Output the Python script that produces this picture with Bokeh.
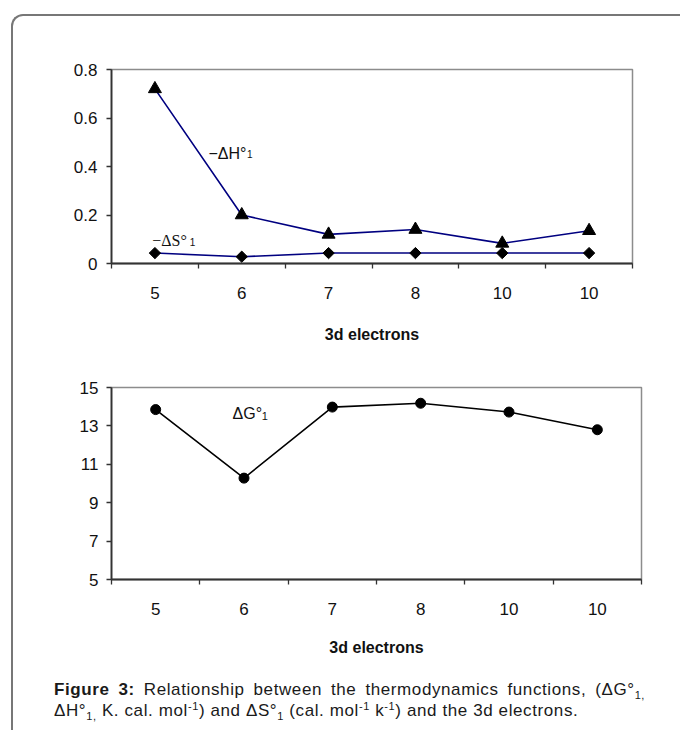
import math
from bokeh.plotting import figure
from bokeh.models import Range1d, FixedTicker, Label, Div
from bokeh.layouts import column
from bokeh.embed import file_html
from bokeh.resources import INLINE

# ---- data ----
categories = ["5", "6", "7", "8", "10", "10"]
neg_dH = [0.72, 0.20, 0.12, 0.14, 0.083, 0.135]      # -ΔH°1
neg_dS = [0.043, 0.028, 0.043, 0.043, 0.043, 0.043]  # -ΔS°1
dG = [13.85, 10.28, 13.98, 14.18, 13.72, 12.8]       # ΔG°1
top_y_ticks = [0, 0.2, 0.4, 0.6, 0.8]
top_y_labels = ["0", "0.2", "0.4", "0.6", "0.8"]
bot_y_ticks = [5, 7, 9, 11, 13, 15]
x_title = "3d electrons"

xs = list(range(len(categories)))
x_overrides = {i: c for i, c in zip(xs, categories)}
bounds = [i - 0.5 for i in xs] + [xs[-1] + 0.5]

FONT = "Liberation Sans"
AX = "#333333"
TXT = "#111111"


def style(p, yticks, yover, ystand):
    p.outline_line_color = "#8c8c8c"
    p.outline_line_width = 1.5
    p.xgrid.visible = False
    p.ygrid.visible = False
    p.background_fill_color = "white"
    p.border_fill_color = None
    xa = p.xaxis[0]
    xa.ticker = FixedTicker(ticks=xs, minor_ticks=bounds)
    xa.major_label_overrides = x_overrides
    xa.major_tick_line_color = None
    xa.major_tick_out = 0
    xa.major_tick_in = 0
    xa.minor_tick_out = 5
    xa.minor_tick_in = 0
    xa.minor_tick_line_color = AX
    xa.minor_tick_line_width = 1.3
    xa.axis_line_color = AX
    xa.axis_line_width = 1.8
    xa.major_label_text_font = FONT
    xa.major_label_text_font_size = "17px"
    xa.major_label_text_color = TXT
    xa.major_label_standoff = 18
    xa.axis_label = x_title
    xa.axis_label_text_font = FONT
    xa.axis_label_text_font_style = "bold"
    xa.axis_label_text_font_size = "16px"
    xa.axis_label_text_color = TXT
    xa.axis_label_standoff = 24
    ya = p.yaxis[0]
    ya.ticker = FixedTicker(ticks=yticks)
    if yover:
        ya.major_label_overrides = yover
    ya.minor_tick_line_color = None
    ya.major_tick_out = 5
    ya.major_tick_in = 0
    ya.major_tick_line_color = AX
    ya.major_tick_line_width = 1.3
    ya.axis_line_color = AX
    ya.axis_line_width = 1.8
    ya.major_label_text_font = FONT
    ya.major_label_text_font_size = "17px"
    ya.major_label_text_color = TXT
    ya.major_label_standoff = ystand


def lab(p, x, y, text, size, font=FONT):
    p.add_layout(Label(x=x, y=y, text=text, text_font=font, text_font_size=size,
                       text_baseline="alphabetic", text_align="left", text_color=TXT))


# ---- top chart ----
p1 = figure(width=667, height=329, frame_width=521, frame_height=194,
            min_border_left=98, min_border_right=48, min_border_top=53, min_border_bottom=82,
            x_range=Range1d(-0.5, 5.5), y_range=Range1d(0, 0.8),
            output_backend="svg", toolbar_location=None)
style(p1, top_y_ticks, {t: l for t, l in zip(top_y_ticks, top_y_labels)}, 9)
p1.line(xs, neg_dH, line_color="#000080", line_width=1.6)
p1.line(xs, neg_dS, line_color="#000080", line_width=1.6)
p1.scatter(xs, neg_dH, marker="triangle", size=13, color="black")
p1.scatter(xs, neg_dS, marker="square", size=8, angle=math.pi / 4, color="black")

lab(p1, 0.617, 0.454, "\u2212\u0394H\u00b0", "16px")
lab(p1, 1.06, 0.450, "1", "10px")
lab(p1, -0.03, 0.096, "\u2212\u0394S\u00b0", "16px", "Liberation Serif")
lab(p1, 0.40, 0.088, "1", "10px")

# ---- bottom chart ----
p2 = figure(width=667, height=323, frame_width=530, frame_height=192,
            min_border_left=92, min_border_right=45, min_border_top=42, min_border_bottom=89,
            x_range=Range1d(-0.5, 5.5), y_range=Range1d(5, 15),
            output_backend="svg", toolbar_location=None)
style(p2, bot_y_ticks, None, 8)
p2.xaxis[0].axis_label_standoff = 21
p2.line(xs, dG, line_color="black", line_width=1.6)
p2.scatter(xs, dG, marker="circle", size=10, color="black")
lab(p2, 0.87, 13.65, "\u0394G\u00b0", "16px")
lab(p2, 1.20, 13.49, "1", "11px")

SUB = '<span style="font-size:11px;line-height:0;vertical-align:-4px;">'
SUP = '<span style="font-size:11px;line-height:0;vertical-align:6px;">'
caption = Div(
    text=('<div style="padding-left:36px;padding-top:6px;font-family:\'Liberation Sans\',Arial;'
          'font-size:17px;letter-spacing:0.6px;line-height:21px;color:#1a1a1a;">'
          '<div style="width:591px;height:21px;text-align:justify;text-align-last:justify;">'
          '<b>Figure 3:</b> Relationship between the thermodynamics functions, (&Delta;G&deg;' + SUB + '1,</span></div>'
          '<div style="height:21px;white-space:nowrap;">'
          '&Delta;H&deg;' + SUB + '1,</span> K. cal. mol' + SUP + '-1</span>) and &Delta;S&deg;' + SUB + '1</span> '
          '(cal. mol' + SUP + '-1</span> k' + SUP + '-1</span>) and the 3d electrons.</div></div>'),
    width=667, height=62)

layout = column(p1, p2, caption, spacing=0,
                styles={"margin-left": "11px", "margin-top": "14px",
                        "border-left": "2px solid #777777", "border-top": "2px solid #777777",
                        "border-top-left-radius": "12px", "background": "white"})

open("out.html", "w").write(file_html(layout, INLINE))
